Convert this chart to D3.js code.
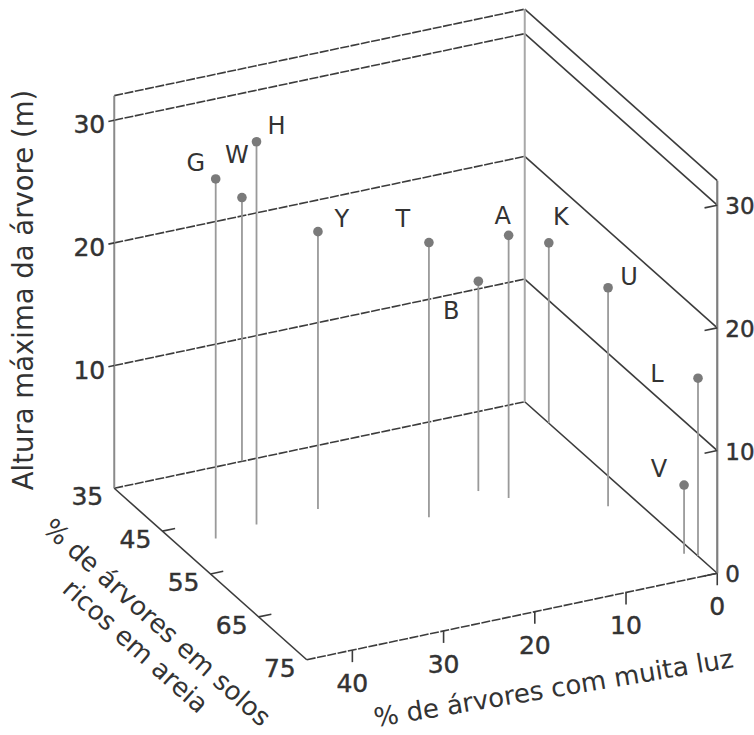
<!DOCTYPE html>
<html>
<head>
<meta charset="utf-8">
<script src="https://cdn.jsdelivr.net/npm/d3@7/dist/d3.min.js"></script>
<style>
  html, body { margin: 0; padding: 0; background: #fff; }
  svg { display: block; }
  text { font-family: "DejaVu Sans", sans-serif; fill: #333; }
  .tick-label { stroke: #333; stroke-width: 0.45px; }
</style>
</head>
<body>
<svg id="chart" width="754" height="735"></svg>
<script>
// Tree species: share of trees in high light, share on sandy soils, maximum height
const species   = ["G", "W", "H", "Y", "T", "B", "A", "K", "U", "V", "L"];
const lightPct  = [41, 31, 36, 29, 20, 13, 11, 0, 3, 1, 0];
const sandPct   = [48.5, 35, 47.5, 47, 53, 50, 52.5, 40, 58, 70, 71];
const heightM   = [29.3, 21.5, 31.2, 22.6, 22.4, 17.1, 21.4, 14.7, 17.8, 5.6, 14.5];

const lightTicks  = [0, 10, 20, 30, 40];
const sandTicks   = [35, 45, 55, 65, 75];
const heightTicks = [0, 10, 20, 30];

const lightTitle  = "% de árvores com muita luz";
const sandTitle   = ["% de árvores em solos", "ricos em areia"];
const heightTitle = "Altura máxima da árvore (m)";

// Oblique box: origin is the back-right floor corner (light 0, sand 35, height 0)
const origin  = [524.75, 401.75];
const lightV  = [-410.5, 86.5];   // light 0 -> 45
const sandV   = [192.5, 171.5];   // sand 35 -> 75
const heightV = [0, -392.6];      // height 0 -> 32

const lightScale  = d3.scaleLinear().domain([0, 45]).range([0, 1]);
const sandScale   = d3.scaleLinear().domain([35, 75]).range([0, 1]);
const heightScale = d3.scaleLinear().domain([0, 32]).range([0, 1]);

const L0 = 0, L1 = 45, S0 = 35, S1 = 75, H0 = 0, H1 = 32;

function project(l, s, h) {
  const a = lightScale(l), b = sandScale(s), c = heightScale(h);
  return [origin[0] + a * lightV[0] + b * sandV[0] + c * heightV[0],
          origin[1] + a * lightV[1] + b * sandV[1] + c * heightV[1]];
}

const svg = d3.select("#chart");
const line = d3.line();

function seg(p, q, stroke, width, dash) {
  svg.append("path")
    .attr("d", line([p, q]))
    .attr("fill", "none")
    .attr("stroke", stroke)
    .attr("stroke-width", width)
    .attr("stroke-dasharray", dash || null);
}

const dark = "#3c3c3c";
const shallowDash = "9,1.5";

// Back wall (sand = 35): horizontal grid lines and top edge
[...heightTicks, H1].forEach(h => {
  seg(project(L1, S0, h), project(L0, S0, h), dark, 1.6, shallowDash);
});
// Right wall (light = 0): grid lines and top edge
[...heightTicks, H1].forEach(h => {
  seg(project(L0, S0, h), project(L0, S1, h), dark, 1.6);
});
// Vertical edges
seg(project(L1, S0, H0), project(L1, S0, H1), "#8a8a8a", 2);
seg(project(L0, S0, H0), project(L0, S0, H1), "#a8a8a8", 2);
seg(project(L0, S1, H0), project(L0, S1, H1), "#7e7e7e", 2.2);
// Floor edges carrying the sand and light axes
seg(project(L1, S0, 0), project(L1, S1, 0), dark, 1.6);
seg(project(L1, S1, 0), project(L0, S1, 0), dark, 1.6, shallowDash);

// Unit directions for tick marks
const lightLen = Math.hypot(lightV[0], lightV[1]);
const uL = [lightV[0] / lightLen, lightV[1] / lightLen];

// Height ticks and labels on the front-right edge
heightTicks.forEach(h => {
  const p = project(L0, S1, h);
  seg(p, [p[0] + uL[0] * 13, p[1] + uL[1] * 13], dark, 1.6);
  svg.append("text")
    .attr("class", "tick-label")
    .attr("x", p[0] + 8).attr("y", p[1] + 9)
    .attr("font-size", 23)
    .text(h);
});
// Height ticks and labels on the back-left edge
heightTicks.filter(h => h > 0).forEach(h => {
  const p = project(L1, S0, h);
  seg(p, [p[0] + uL[0] * 6, p[1] + uL[1] * 6], dark, 1.6);
  svg.append("text")
    .attr("class", "tick-label")
    .attr("x", p[0] - 9).attr("y", p[1] + 13)
    .attr("text-anchor", "end")
    .attr("font-size", 25)
    .text(h);
});

// Sand axis ticks and labels
sandTicks.forEach(s => {
  const p = project(L1, s, 0);
  if (s > S0 && s < S1) seg(p, [p[0] - uL[0] * 13, p[1] - uL[1] * 13], dark, 1.6);
  svg.append("text")
    .attr("class", "tick-label")
    .attr("x", p[0] - 11).attr("y", p[1] + 17)
    .attr("text-anchor", "end")
    .attr("font-size", 25)
    .text(s);
});

// Light axis ticks and labels
lightTicks.forEach(l => {
  const p = project(l, S1, 0);
  seg(p, [p[0], p[1] + 12], dark, 1.6);
  svg.append("text")
    .attr("class", "tick-label")
    .attr("x", p[0]).attr("y", p[1] + 42)
    .attr("text-anchor", "middle")
    .attr("font-size", 25)
    .text(l);
});

// Axis titles
svg.append("text")
  .attr("transform", "translate(33,290) rotate(-90)")
  .attr("text-anchor", "middle")
  .attr("font-size", 27.5)
  .text(heightTitle);

svg.append("text")
  .attr("transform", "translate(555,697) rotate(-9.5)")
  .attr("text-anchor", "middle")
  .attr("font-size", 26)
  .text(lightTitle);

const sandTitleG = svg.append("g")
  .attr("transform", "translate(151,629) rotate(42)");
sandTitle.forEach((t, i) => {
  sandTitleG.append("text")
    .attr("x", 0).attr("y", i * 32)
    .attr("text-anchor", "middle")
    .attr("font-size", 26)
    .text(t);
});

// Label placement around each point
const labelOffset = {
  G: [-20, -16], W: [-5, -43], H: [20, -16], Y: [24, -13], T: [-26, -24],
  B: [-27, 30], A: [-6, -19], K: [12, -26], U: [21, -11], V: [-25, -16], L: [-41, -4]
};

const pts = species.map((name, i) => ({
  name,
  top: project(lightPct[i], sandPct[i], heightM[i]),
  foot: project(lightPct[i], sandPct[i], 0)
}));

// Drop lines to the floor
svg.append("g").selectAll("path")
  .data(pts).join("path")
  .attr("d", d => line([d.top, d.foot]))
  .attr("stroke", "#9a9a9a")
  .attr("stroke-width", 1.8)
  .attr("fill", "none");

// Points
svg.append("g").selectAll("circle")
  .data(pts).join("circle")
  .attr("cx", d => d.top[0])
  .attr("cy", d => d.top[1])
  .attr("r", 4.8)
  .attr("fill", "#7a7a7a");

// Species letters
svg.append("g").selectAll("text")
  .data(pts).join("text")
  .attr("x", d => d.top[0] + labelOffset[d.name][0])
  .attr("y", d => d.top[1] + labelOffset[d.name][1])
  .attr("text-anchor", "middle")
  .attr("dominant-baseline", "central")
  .attr("font-size", 24)
  .text(d => d.name);
</script>
</body>
</html>
